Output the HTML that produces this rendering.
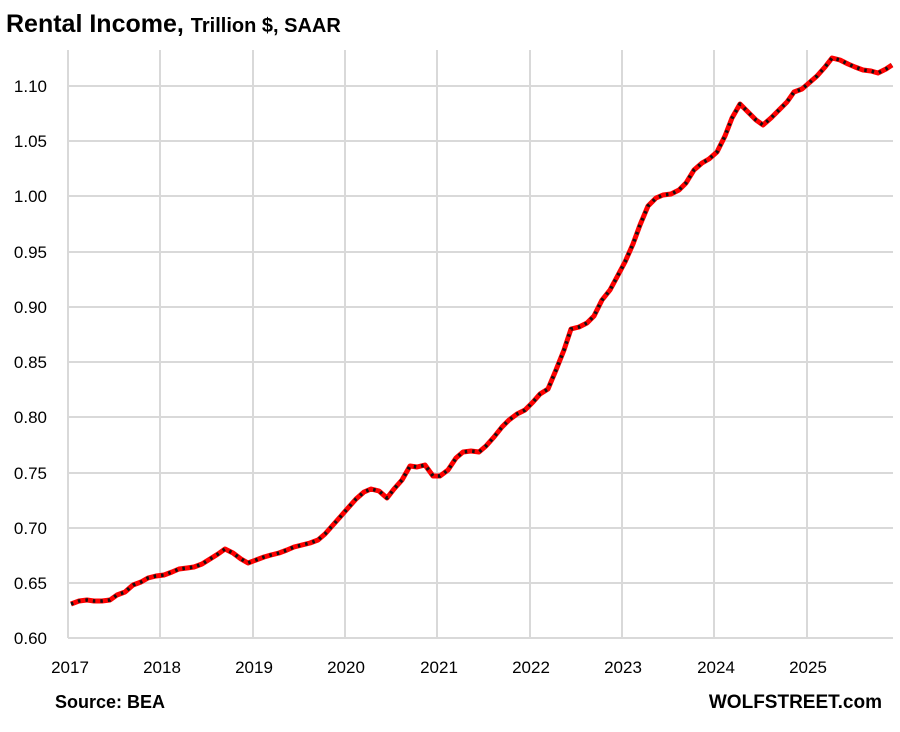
<!DOCTYPE html>
<html><head><meta charset="utf-8"><style>
body{margin:0;background:#fff;width:900px;height:727px;overflow:hidden}
svg{font-family:"Liberation Sans",Arial,sans-serif}
</style></head><body>
<svg width="900" height="727" viewBox="0 0 900 727">
<text x="6" y="32" font-size="25" font-weight="bold">Rental Income, <tspan font-size="20">Trillion $, SAAR</tspan></text>
<g stroke="#d9d9d9" stroke-width="2">
<line x1="68" y1="86" x2="893" y2="86"/><line x1="68" y1="141" x2="893" y2="141"/><line x1="68" y1="196" x2="893" y2="196"/><line x1="68" y1="252" x2="893" y2="252"/><line x1="68" y1="307" x2="893" y2="307"/><line x1="68" y1="362" x2="893" y2="362"/><line x1="68" y1="417" x2="893" y2="417"/><line x1="68" y1="473" x2="893" y2="473"/><line x1="68" y1="528" x2="893" y2="528"/><line x1="68" y1="583" x2="893" y2="583"/><line x1="68" y1="638" x2="893" y2="638"/>
<line x1="68" y1="50" x2="68" y2="638"/><line x1="160" y1="50" x2="160" y2="638"/><line x1="253" y1="50" x2="253" y2="638"/><line x1="345" y1="50" x2="345" y2="638"/><line x1="437" y1="50" x2="437" y2="638"/><line x1="530" y1="50" x2="530" y2="638"/><line x1="622" y1="50" x2="622" y2="638"/><line x1="714" y1="50" x2="714" y2="638"/><line x1="807" y1="50" x2="807" y2="638"/>
</g>
<g font-size="17" text-anchor="end">
<text x="47" y="92">1.10</text><text x="47" y="147">1.05</text><text x="47" y="202">1.00</text><text x="47" y="258">0.95</text><text x="47" y="313">0.90</text><text x="47" y="368">0.85</text><text x="47" y="423">0.80</text><text x="47" y="479">0.75</text><text x="47" y="534">0.70</text><text x="47" y="589">0.65</text><text x="47" y="644">0.60</text>
</g>
<g font-size="17" text-anchor="middle">
<text x="70" y="673">2017</text><text x="162" y="673">2018</text><text x="254" y="673">2019</text><text x="346" y="673">2020</text><text x="439" y="673">2021</text><text x="531" y="673">2022</text><text x="623" y="673">2023</text><text x="716" y="673">2024</text><text x="808" y="673">2025</text>
</g>
<polyline fill="none" stroke="#ff0000" stroke-width="5" stroke-linejoin="round" points="71,604 79,601 87,600 94,601 102,601 110,600 117,595 125,592 133,585 141,582 148,578 156,576 164,575 172,572 179,569 187,568 194,567 202,564 210,559 218,554 225,549 233,553 241,559 248,563 256,560 264,557 271,555 279,553 287,550 294,547 302,545 310,543 318,540 325,534 333,525 341,516 348,508 356,499 364,492 371,489 379,491 387,498 394,489 402,480 410,466 417,467 425,465 433,476 440,476 448,470 456,458 463,452 471,451 479,452 486,446 494,437 502,427 509,420 517,414 525,410 533,402 540,394 548,389 556,370 564,350 571,329 579,327 587,323 594,316 602,300 610,290 617,277 625,262 633,244 640,225 648,206 656,198 663,195 671,194 679,190 686,183 694,170 702,163 709,159 717,152 725,136 732,118 740,104 748,112 756,120 763,125 771,118 779,110 787,102 794,92 802,89 809,83 817,76 825,67 832,58 840,60 848,64 855,67 863,70 871,71 878,73 886,69 892,65"/>
<polyline fill="none" stroke="#111" stroke-width="3.5" stroke-dasharray="2.5 5" stroke-linejoin="round" points="71,604 79,601 87,600 94,601 102,601 110,600 117,595 125,592 133,585 141,582 148,578 156,576 164,575 172,572 179,569 187,568 194,567 202,564 210,559 218,554 225,549 233,553 241,559 248,563 256,560 264,557 271,555 279,553 287,550 294,547 302,545 310,543 318,540 325,534 333,525 341,516 348,508 356,499 364,492 371,489 379,491 387,498 394,489 402,480 410,466 417,467 425,465 433,476 440,476 448,470 456,458 463,452 471,451 479,452 486,446 494,437 502,427 509,420 517,414 525,410 533,402 540,394 548,389 556,370 564,350 571,329 579,327 587,323 594,316 602,300 610,290 617,277 625,262 633,244 640,225 648,206 656,198 663,195 671,194 679,190 686,183 694,170 702,163 709,159 717,152 725,136 732,118 740,104 748,112 756,120 763,125 771,118 779,110 787,102 794,92 802,89 809,83 817,76 825,67 832,58 840,60 848,64 855,67 863,70 871,71 878,73 886,69 892,65"/>
<text x="55" y="708" font-size="18" font-weight="bold">Source: BEA</text>
<text x="882" y="708" font-size="19" font-weight="bold" text-anchor="end">WOLFSTREET.com</text>
</svg>
</body></html>
